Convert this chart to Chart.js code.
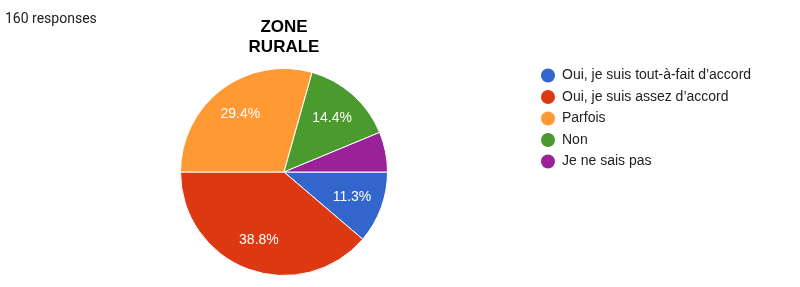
<!DOCTYPE html>
<html>
<head>
<meta charset="utf-8">
<script src="https://cdn.jsdelivr.net/npm/chart.js@4/dist/chart.umd.min.js"></script>
<style>
    body { margin: 0; background: #fff; }
    #wrap { position: relative; width: 800px; height: 287px; }
    #responses {
        position: absolute; left: 5px; top: 10px;
        font: 14px Roboto, Arial, sans-serif; color: #202124;
    }
</style>
</head>
<body>
<div id="wrap">
    <div id="responses">160 responses</div>
    <canvas id="pieChart" width="800" height="287"></canvas>
</div>
<script>
// Survey data (160 responses)
const categories = [
    'Oui, je suis tout-à-fait d\u2019accord',
    'Oui, je suis assez d\u2019accord',
    'Parfois',
    'Non',
    'Je ne sais pas'
];
const responseCounts = [18, 62, 47, 23, 10];
const sliceColors = ['#3366cc', '#dc3912', '#ff9933', '#4a9a2e', '#992299'];
const chartTitle = ['ZONE', 'RURALE'];

// Percent labels inside the bigger slices
const sliceLabelsPlugin = {
    id: 'sliceLabels',
    afterDatasetsDraw(chart) {
        const ctx = chart.ctx;
        const meta = chart.getDatasetMeta(0);
        const values = chart.data.datasets[0].data;
        const total = values.reduce((a, b) => a + b, 0);
        ctx.save();
        ctx.font = '14px "Liberation Sans", Arial, sans-serif';
        ctx.fillStyle = '#fff';
        ctx.textAlign = 'center';
        ctx.textBaseline = 'middle';
        meta.data.forEach((arc, i) => {
            const share = values[i] / total;
            if (share < 0.1) return;
            const p = arc.getProps(['x', 'y', 'startAngle', 'endAngle', 'outerRadius'], true);
            const mid = (p.startAngle + p.endAngle) / 2;
            const r = p.outerRadius * 0.7;
            ctx.fillText((share * 100).toFixed(1) + '%', p.x + Math.cos(mid) * r, p.y + Math.sin(mid) * r);
        });
        ctx.restore();
    }
};

// Title above the pie and legend on the right
const sideLegendPlugin = {
    id: 'sideLegend',
    afterDraw(chart) {
        const ctx = chart.ctx;
        const meta = chart.getDatasetMeta(0);
        const cx = meta.data[0].x;
        ctx.save();
        ctx.fillStyle = '#000';
        ctx.textAlign = 'center';
        ctx.textBaseline = 'middle';
        ctx.font = 'bold 17px "Liberation Sans", Arial, sans-serif';
        chartTitle.forEach((line, i) => ctx.fillText(line, cx, 27 + i * 20.5));

        ctx.font = '14px "Liberation Sans", Arial, sans-serif';
        ctx.textAlign = 'left';
        categories.forEach((label, i) => {
            const y = 75.5 + i * 21.5;
            ctx.beginPath();
            ctx.arc(548, y, 7, 0, Math.PI * 2);
            ctx.fillStyle = sliceColors[i];
            ctx.fill();
            ctx.fillStyle = '#222';
            ctx.fillText(label, 562, y);
        });
        ctx.restore();
    }
};

new Chart(document.getElementById('pieChart'), {
    type: 'pie',
    data: {
        labels: categories,
        datasets: [{
            data: responseCounts,
            backgroundColor: sliceColors,
            borderColor: '#fff',
            borderWidth: 1
        }]
    },
    options: {
        responsive: false,
        animation: false,
        rotation: 90,
        layout: {
            padding: { left: 180, right: 412, top: 68, bottom: 11 }
        },
        plugins: {
            legend: { display: false },
            tooltip: { enabled: false },
            title: { display: false }
        }
    },
    plugins: [sliceLabelsPlugin, sideLegendPlugin]
});
</script>
</body>
</html>
